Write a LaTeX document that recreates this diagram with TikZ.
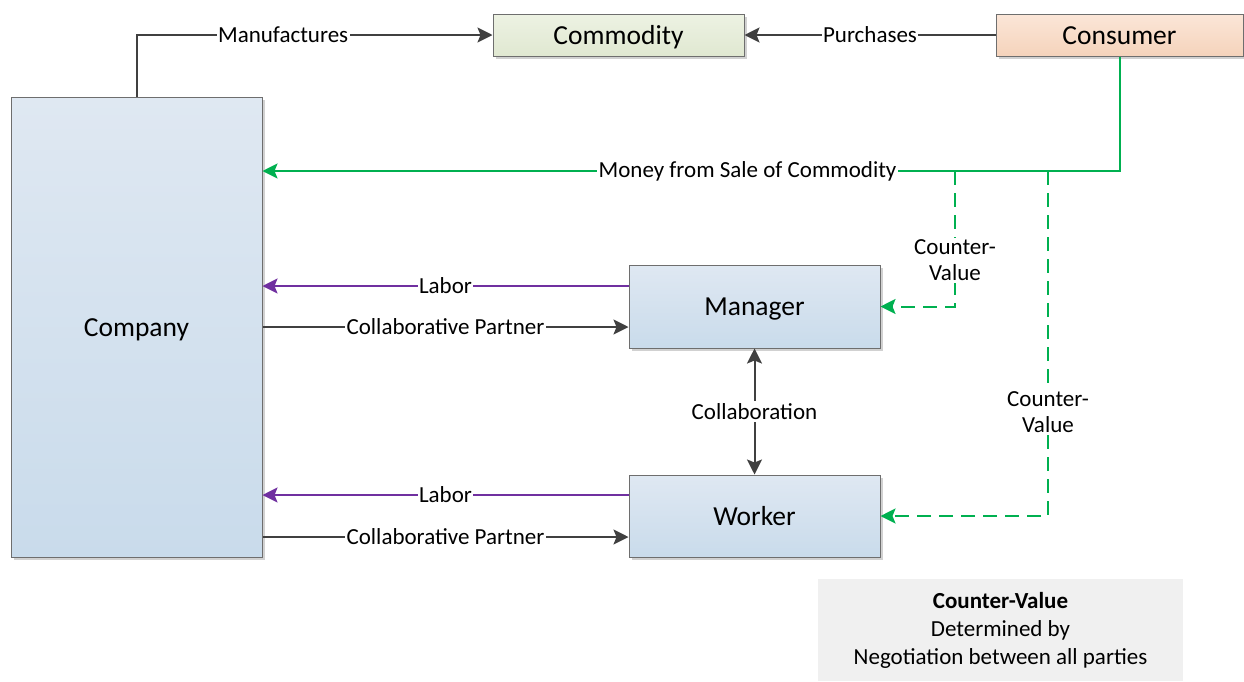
\documentclass[tikz,border=0pt]{standalone}
\usepackage{fontspec}
\setmainfont{Carlito}
\usetikzlibrary{arrows.meta, positioning, calc, shadows}
\usepackage{xcolor}
\definecolor{mygray}{RGB}{64, 64, 64}
\definecolor{myboxgray}{RGB}{110, 110, 110}
\definecolor{mygreen}{RGB}{0, 176, 80}
\definecolor{mypurple}{RGB}{112, 48, 160}
\definecolor{mybluetop}{RGB}{223, 232, 242}
\definecolor{mybluebottom}{RGB}{201, 219, 235}
\definecolor{mygreentop}{RGB}{237, 242, 227}
\definecolor{mygreenbottom}{RGB}{224, 232, 209}
\definecolor{mypeachtop}{RGB}{251, 230, 216}
\definecolor{mypeachbottom}{RGB}{245, 211, 187}
\definecolor{mylegendgray}{RGB}{240, 240, 240}

\begin{document}
\begin{tikzpicture}[
                x=1pt, y=-1pt,
                every node/.style={font=\fontsize{23}{26}\selectfont, text=black},
                box/.style={draw=myboxgray, line width=1pt, inner sep=0pt,
                    font=\fontsize{27.5}{33}\selectfont, text height=18pt, text depth=0pt,
                    drop shadow={shadow xshift=3pt, shadow yshift=-3pt, fill=black!18, opacity=1}},
                bluebox/.style={box, top color=mybluetop, bottom color=mybluebottom},
                greenbox/.style={box, top color=mygreentop, bottom color=mygreenbottom},
                peachbox/.style={box, top color=mypeachtop, bottom color=mypeachbottom},
                lbl/.style={fill=white, text=black, inner xsep=1.5pt, inner ysep=2pt},
                arrow/.style={-{Stealth[length=15pt, width=15pt, inset=3pt]}, line width=2pt, color=mygray},
                dblarrow/.style={{Stealth[length=15pt, width=15pt, inset=3pt]}-{Stealth[length=15pt, width=15pt, inset=3pt]}, line width=2pt, color=mygray},
                laborarrow/.style={arrow, color=mypurple},
                moneyarrow/.style={arrow, color=mygreen},
                valuearrow/.style={arrow, color=mygreen, dash pattern=on 14pt off 8pt}
            ]
                \useasboundingbox (0,0) rectangle (1244,681);

                \node (company)   [bluebox, minimum width=251, minimum height=460] at (136.5,327) {Company};
                \node (commodity) [greenbox, minimum width=251, minimum height=42] at (618.5,35) {Commodity};
                \node (consumer)  [peachbox, minimum width=247, minimum height=42] at (1119.5,35) {Consumer};
                \node (manager)   [bluebox, minimum width=251, minimum height=83] at (754.5,306.5) {Manager};
                \node (worker)    [bluebox, minimum width=251, minimum height=82] at (754.5,516) {Worker};
                \node (legend)    [fill=mylegendgray, minimum width=365, minimum height=102,
                    align=center, font=\fontsize{23}{28}\selectfont] at (1000.5,630)
                    {\textbf{Counter-Value}\\Determined by\\Negotiation between all parties};

                \coordinate (moneyrow) at (0,171);
                \coordinate (tapA) at (955,171);
                \coordinate (tapB) at (1048,171);

                \draw[arrow] (company.north) |- (commodity.west) node[lbl, pos=0.706] {Manufactures};
                \draw[arrow] (consumer.west) -- (commodity.east) node[lbl, midway] {Purchases};
                \draw[moneyarrow] (consumer.south) |- (company.east |- moneyrow)
                    node[lbl, pos=0.717] {Money from Sale of Commodity};
                \draw[valuearrow] (tapA) |- (manager.east) node[lbl, align=center, pos=0.33] {Counter-\\Value};
                \draw[valuearrow] (tapB) |- (worker.east) node[lbl, align=center, pos=0.35] {Counter-\\Value};

                \draw[laborarrow] ([yshift=20.5pt]manager.west) -- ([yshift=20.5pt]manager.west -| company.east)
                    node[lbl, midway] {Labor};
                \draw[arrow] ([yshift=-20.5pt]manager.west -| company.east) -- ([yshift=-20.5pt]manager.west)
                    node[lbl, midway] {Collaborative Partner};
                \draw[laborarrow] ([yshift=21pt]worker.west) -- ([yshift=21pt]worker.west -| company.east)
                    node[lbl, midway] {Labor};
                \draw[arrow] ([yshift=-21pt]worker.west -| company.east) -- ([yshift=-21pt]worker.west)
                    node[lbl, midway] {Collaborative Partner};
                \draw[dblarrow] (manager.south) -- (worker.north) node[lbl, midway] {Collaboration};
            \end{tikzpicture}
\end{document}
